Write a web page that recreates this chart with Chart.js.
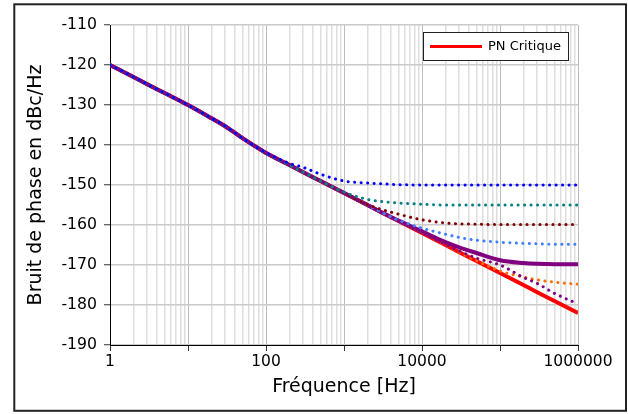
<!DOCTYPE html>
<html>
<head>
<meta charset="utf-8">
<script src="https://cdn.jsdelivr.net/npm/chart.js@4/dist/chart.umd.min.js"></script>
<style>
  html, body { margin: 0; padding: 0; background: #fff; }
  canvas { display: block; }
</style>
</head>
<body>
<canvas id="graphe" width="628" height="414"></canvas>
<script>
// fréquences (Hz) et bruit de phase (dBc/Hz)
const freqs = [1,2,3,5,10,20,30,50,100,200,300,500,1000,2000,3000,5000,10000,20000,30000,50000,100000,200000,300000,500000,1000000];

const pnCritique = [-120,-123,-124.8,-127,-130,-133.3,-135.3,-138.3,-142,-145,-146.8,-149,-152,-155,-156.8,-159,-162,-165,-166.8,-169,-172,-175,-176.8,-179,-182];
const plancher150 = [-120,-123,-124.8,-127,-130,-133.3,-135.3,-138.3,-141.9,-144.6,-145.6,-147.3,-149,-149.5,-149.7,-149.9,-150,-150,-150,-150,-150,-150,-150,-150,-150];
const plancher155 = [-120,-123,-124.8,-127,-130,-133.3,-135.3,-138.3,-142,-145,-146.8,-149,-151.8,-153.6,-154.1,-154.5,-154.8,-155,-155,-155,-155,-155,-155,-155,-155];
const plancher160 = [-120,-123,-124.8,-127,-130,-133.3,-135.3,-138.3,-142,-145,-146.8,-149,-152,-154.9,-156.1,-157.3,-158.7,-159.5,-159.7,-159.8,-159.9,-159.9,-159.9,-159.9,-159.9];
const plancher165 = [-120,-123,-124.8,-127,-130,-133.3,-135.3,-138.3,-142,-145,-146.8,-149,-152,-155,-156.8,-158.8,-160.8,-162.3,-163.1,-163.8,-164.3,-164.6,-164.7,-164.8,-164.8];
const plancher170 = [-120,-123,-124.8,-127,-130,-133.3,-135.3,-138.3,-142,-145,-146.8,-149,-152,-155,-156.8,-158.9,-161.6,-164.3,-165.6,-167,-168.8,-169.5,-169.7,-169.8,-169.8];
const plancher175 = [-120,-123,-124.8,-127,-130,-133.3,-135.3,-138.3,-142,-145,-146.8,-149,-152,-155,-156.8,-159,-162,-165,-166.8,-168.9,-171.5,-173,-173.7,-174.3,-174.8];
const plancher180 = [-120,-123,-124.8,-127,-130,-133.3,-135.3,-138.3,-142,-145,-146.8,-149,-152,-155,-156.8,-159,-162,-164.9,-166.5,-168.3,-170,-173.1,-174.6,-177.1,-179.7];

const xLabels = [1,100,10000,1000000];
const yTicks = [-190,-180,-170,-160,-150,-140,-130,-120,-110];

// lignes de grille : 1..9 par décade
let grilleX = [];
for(let e=0;e<6;e++){
  for(let s=1;s<10;s++) grilleX.push(s*Math.pow(10,e));
}
grilleX.push(1000000);

const police = "'DejaVu Sans', sans-serif";

function pts(vals){
  return freqs.map((f,i)=>({x:f, y:vals[i]}));
}

function pointille(label, vals, couleur){
  return {
    label: label, data: pts(vals), borderColor: couleur, backgroundColor: couleur,
    borderWidth: 3, borderDash: [0.1, 6.4], borderCapStyle: 'round',
    pointRadius: 0, cubicInterpolationMode: 'monotone', fill: false
  };
}

function isDecade(v){
  const l = Math.log10(v);
  return Math.abs(l - Math.round(l)) < 1e-9;
}

const legende = {
  id: 'legende',
  afterDraw(chart){
    const ctx = chart.ctx;
    const ds = chart.data.datasets.find(d=>d.label === 'PN Critique');
    ctx.save();
    ctx.fillStyle = '#fff';
    ctx.fillRect(423.5, 32.5, 145, 28);
    ctx.strokeStyle = '#222';
    ctx.lineWidth = 1;
    ctx.strokeRect(423.5, 32.5, 145, 28);
    ctx.strokeStyle = ds.borderColor;
    ctx.lineWidth = 3;
    ctx.beginPath();
    ctx.moveTo(430, 46.5);
    ctx.lineTo(482, 46.5);
    ctx.stroke();
    ctx.fillStyle = '#000';
    ctx.font = "13px " + police;
    ctx.textBaseline = 'middle';
    ctx.fillText(ds.label, 488, 46.5);
    // cadre autour de la figure
    ctx.strokeStyle = '#222';
    ctx.lineWidth = 2;
    ctx.strokeRect(14.3, 4.3, 611.7, 406.5);
    ctx.restore();
  }
};

new Chart(document.getElementById("graphe"), {
  type: 'line',
  data: {
    datasets: [
      pointille('Plancher -150', plancher150, '#0000ff'),
      pointille('Plancher -155', plancher155, '#008080'),
      pointille('Plancher -160', plancher160, '#800000'),
      pointille('Plancher -165', plancher165, '#3f7fff'),
      pointille('Plancher -180', plancher180, '#800080'),
      pointille('Plancher -175', plancher175, '#ff6d00'),
      {label:'Plancher -170', data: pts(plancher170), borderColor:'#800080', borderWidth:4,
       pointRadius:0, cubicInterpolationMode:'monotone', fill:false},
      {label:'PN Critique', data: pts(pnCritique), borderColor:'#ff0000', borderWidth:4,
       pointRadius:0, cubicInterpolationMode:'monotone', fill:false}
    ]
  },
  options: {
    responsive: false,
    animation: false,
    devicePixelRatio: 1,
    layout: { padding: {top:25, right:50, left:0, bottom:0} },
    plugins: { legend: {display:false}, tooltip: {enabled:false} },
    scales: {
      x: {
        type: 'logarithmic', min: 1, max: 1000000,
        afterBuildTicks: s => { s.ticks = grilleX.map(v=>({value:v})); },
        afterFit: s => { s.height = 69; },
        border: { color: '#000', width: 1 },
        grid: {
          color: c => isDecade(c.tick.value) ? '#bdbdbd' : '#dedede',
          lineWidth: c => isDecade(c.tick.value) ? 1 : 1.5,
          tickColor: c => isDecade(c.tick.value) ? '#333' : 'rgba(0,0,0,0)',
          tickLength: 6, tickWidth: 1
        },
        ticks: {
          autoSkip: false, maxRotation: 0, padding: 2, color: '#000',
          font: { family: police, size: 15.5 },
          callback: v => xLabels.includes(v) ? String(v) : ''
        },
        title: {
          display: true, text: 'Fréquence [Hz]', color: '#000',
          font: { family: police, size: 19 }, padding: {top:0, bottom:16}
        }
      },
      y: {
        min: -190, max: -110,
        afterBuildTicks: s => { s.ticks = yTicks.map(v=>({value:v})); },
        afterFit: s => { s.width = 110; },
        border: { color: '#000', width: 1 },
        grid: { color: '#cacaca', lineWidth: 1.5, tickColor: '#333', tickLength: 6, tickWidth: 1 },
        ticks: { padding: 7, color: '#000', font: { family: police, size: 15.7 } },
        title: {
          display: true, text: 'Bruit de phase en dBc/Hz', color: '#000',
          font: { family: police, size: 19 }, padding: {top:25, bottom:0}
        }
      }
    }
  },
  plugins: [legende]
});
</script>
</body>
</html>
